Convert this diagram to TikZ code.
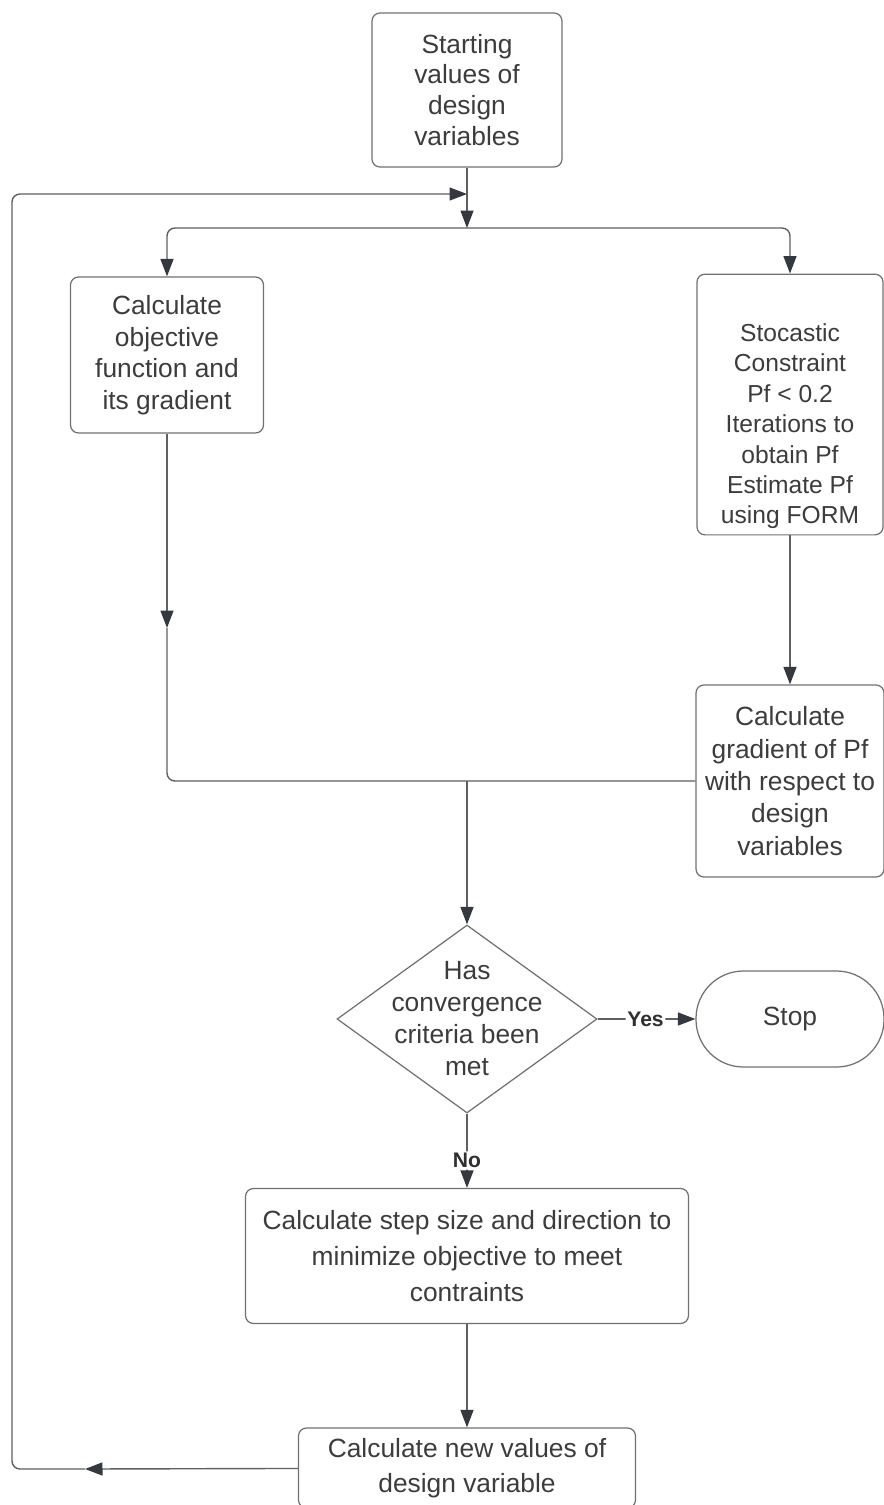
\documentclass[tikz,border=0pt]{standalone}
\usepackage{fontspec}
\setmainfont{Liberation Sans}
\usepackage{tikz}
\usetikzlibrary{shapes.geometric, arrows.meta}
\definecolor{boxgray}{RGB}{112,112,112}
\definecolor{linegray}{RGB}{96,96,96}
\definecolor{tipdark}{RGB}{52,56,64}
\definecolor{textgray}{RGB}{60,60,60}
\tikzstyle{process} = [rectangle, draw=boxgray, line width=0.7pt, rounded corners=0.16cm, align=center, text=textgray, font=\fontsize{15}{18}\selectfont]
\tikzstyle{decision} = [diamond, draw=boxgray, line width=0.7pt, inner sep=0pt]
\tikzstyle{terminal} = [rectangle, draw=boxgray, line width=0.7pt, rounded corners=0.95cm, text=textgray, font=\fontsize{15}{18}\selectfont]
\tikzstyle{line} = [draw=linegray, line width=0.8pt, rounded corners=0.16cm]
\tikzstyle{arrow} = [line, -{Triangle[length=0.35cm, width=0.26cm, color=tipdark]}]
\tikzstyle{answer} = [fill=white, inner sep=1pt, text=textgray!80!black, font=\bfseries\fontsize{12}{14}\selectfont]

\begin{document}
\begin{tikzpicture}
    \useasboundingbox (0,0) rectangle (17.66,-30.1);

    % nodes
    \node (start) [process, minimum width=3.8cm, minimum height=3.08cm, font=\fontsize{15}{17.6}\selectfont] at (9.34,-1.8) {Starting\\values of\\design\\variables};
    \node (obj) [process, minimum width=3.86cm, minimum height=3.12cm] at (3.34,-7.1) {Calculate\\objective\\function and\\its gradient};
    \node (stoch) [process, minimum width=3.72cm, minimum height=5.06cm, font=\fontsize{14}{17.3}\selectfont] at (15.8,-8.09) {\rule{0pt}{35pt}Stocastic\\Constraint\\Pf < 0.2\\Iterations to\\obtain Pf\\Estimate Pf\\using FORM};
    \node (grad) [process, node distance=7.53cm, below of=stoch, minimum width=3.76cm, minimum height=3.84cm, font=\fontsize{15}{18.4}\selectfont] {Calculate\\gradient of Pf\\with respect to\\design\\variables};
    \node (conv) [decision, node distance=18.58cm, below of=start, minimum width=5.2cm, minimum height=3.76cm] {};
    \node (convtext) [align=center, text=textgray, font=\fontsize{15}{18.2}\selectfont] at (conv) {Has\\convergence\\criteria been\\met};
    \node (stop) [terminal, node distance=6.46cm, right of=conv, minimum width=3.76cm, minimum height=1.92cm] {Stop};
    \node (stepsize) [process, node distance=4.74cm, below of=conv, minimum width=8.86cm, minimum height=2.7cm, font=\fontsize{15}{20.5}\selectfont] {Calculate step size and direction to\\minimize objective to meet\\contraints};
    \node (newval) [process, node distance=4.24cm, below of=stepsize, minimum width=6.74cm, minimum height=1.6cm, font=\fontsize{15}{19.8}\selectfont] {Calculate new values of\\design variable};

    % junctions
    \coordinate (looptop) at (9.34,-3.88);
    \coordinate (split) at (9.34,-4.56);
    \coordinate (midobj) at (3.34,-12.56);
    \coordinate (merge) at (conv.north |- grad.west);
    \coordinate (midloop) at (1.7,-29.38);
    \coordinate (loopcorner) at (0.24,-29.38);

    % edges
    \draw [arrow] (start) -- (split);
    \draw [arrow] (split) -| (obj.north);
    \draw [arrow] (split) -| (stoch.north);
    \draw [arrow] (obj) -- (midobj);
    \draw [line] (midobj) |- (grad.west);
    \draw [arrow] (stoch) -- (grad);
    \draw [arrow] (merge) -- (conv.north);
    \draw [arrow] (conv) -- node[answer, pos=0.49] {Yes} (stop);
    \draw [arrow] (conv) -- node[answer, pos=0.63] {No} (stepsize);
    \draw [arrow] (stepsize) -- (newval);
    \draw [arrow] (newval) -- (midloop);
    \draw [arrow] (midloop) -- (loopcorner) |- (looptop);

\end{tikzpicture}
\end{document}
